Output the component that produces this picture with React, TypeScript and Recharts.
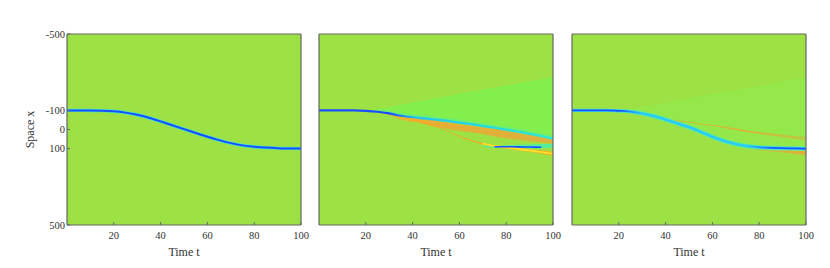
import React from 'react';
import { ComposedChart, Area, Line, XAxis, YAxis, Label } from 'recharts';

// ---------- data ----------
const T = [0, 5, 10, 15, 20, 25, 30, 35, 40, 45, 50, 55, 60, 65, 70, 75, 80, 85, 90, 95, 100];
const X_TICKS = [20, 40, 60, 80, 100];
const Y_TICKS = [-500, -100, 0, 100, 500];
const X_LABEL = 'Time t';
const Y_LABEL = 'Space x';

type V = number | null;
const _ = null;

// Panel 1: true trajectory
const P1_PATH: V[] = [-100, -100, -100, -99, -96, -89, -78, -62, -43, -22, -2, 18, 38, 56, 72, 84, 91, 95, 98, 99, 100];

// Panel 2
const P2_PATH: V[] = [-100, -100, -100, -100, -98, -93, -84, -72, -64, -58, -52, -45, -36, -28, -18, -9, 1, 11, 23, 35, 48];
const P2_WEDGE_TOP: V[] = [_, _, _, _, -100, -108, -118, -130, -142, -152, -163, -174, -186, -197, -208, -219, -230, -241, -252, -262, -273];
const P2_HALO_TOP: V[] = [_, _, _, _, _, -104, -97, -86, -79, -73, -67, -60, -51, -43, -33, -24, -14, -4, 8, 20, 33];
const P2_BAND_LO: V[] = [_, _, _, _, _, -95, -84, -70, -63, -55, -46, -36, -28, -19, -10, -2, 8, 18, 28, 38, 48];
const P2_BAND_HI: V[] = [_, _, _, _, _, -90, -76, -52, -40, -28, -14, -2, 6, 14, 24, 36, 46, 54, 62, 68, 74];
const P2_LOWER_LO: V[] = [_, _, _, _, _, -96, -88, -76, -58, -36, -16, 6, 34, 54, 70, 81, 89, 95, 102, 109, 117];
const P2_LOWER_HI: V[] = [_, _, _, _, _, -94, -84, -72, -54, -32, -12, 10, 39, 60, 78, 91, 101, 109, 118, 127, 137];
const P2_LOWER_CORE: V[] = [_, _, _, _, _, _, _, _, _, _, _, _, _, _, 74, 86, 95, 102, 110, 118, 127];
const P2_SPLIT_LO: V[] = [_, _, _, _, _, _, _, _, _, _, _, _, _, _, 86, 84, 82, 80, 78, 76, 74];
const P2_SPLIT_HI: V[] = [_, _, _, _, _, _, _, _, _, _, _, _, _, _, 90, 96, 98, 99, 99, 98, 96];
const P2_SPLIT_CORE: V[] = [_, _, _, _, _, _, _, _, _, _, _, _, _, _, _, 90, 90, 91, 92, 93, _];

// Panel 3
const P3_PATH: V[] = [-100, -100, -100, -100, -98, -94, -84, -70, -52, -32, -12, 12, 38, 60, 76, 87, 93, 96, 98, 99, 100];
const P3_HALO_LO: V[] = [-104, -104, -104, -104, -104, -104, -97, -83, -65, -45, -25, -1, 25, 47, 63, 75, 81, 84, 86, 87, 88];
const P3_HALO_HI: V[] = [-96, -96, -96, -96, -93, -85, -72, -57, -39, -19, 1, 25, 51, 73, 89, 99, 105, 108, 110, 111, 112];
const P3_WEDGE_TOP: V[] = [_, _, _, _, -100, -108, -118, -128, -140, -151, -162, -173, -184, -195, -206, -217, -228, -240, -252, -263, -275];
const P3_STREAK_LO: V[] = [_, _, _, _, _, _, -84, -67, -58, -49, -41, -32, -23, -14, -5, 5, 13, 20, 27, 34, 40];
const P3_STREAK_HI: V[] = [_, _, _, _, _, _, -82, -63, -54, -45, -37, -28, -19, -8, 2, 14, 24, 32, 40, 48, 56];
const P3_TAIL_LO: V[] = [_, _, _, _, _, _, _, _, _, _, _, _, _, _, _, 98, 100, 103, 106, 110, 114];
const P3_TAIL_HI: V[] = [_, _, _, _, _, _, _, _, _, _, _, _, _, _, _, 101, 108, 115, 121, 127, 134];

// ---------- helpers ----------
const rng = (lo: V[], hi: V[]) => T.map((_t, i) => (lo[i] == null || hi[i] == null ? null : [lo[i], hi[i]]));

const data1 = T.map((t, i) => ({ t, path: P1_PATH[i] }));

const p2Wedge = rng(P2_WEDGE_TOP, P2_PATH);
const p2Halo = rng(P2_HALO_TOP, P2_PATH);
const p2Band = rng(P2_BAND_LO, P2_BAND_HI);
const p2Lower = rng(P2_LOWER_LO, P2_LOWER_HI);
const p2Split = rng(P2_SPLIT_LO, P2_SPLIT_HI);
const data2 = T.map((t, i) => ({
  t,
  path: P2_PATH[i],
  wedge: p2Wedge[i],
  halo: p2Halo[i],
  band: p2Band[i],
  lower: p2Lower[i],
  lowerCore: P2_LOWER_CORE[i],
  split: p2Split[i],
  splitCore: P2_SPLIT_CORE[i],
}));

const p3Wedge = rng(P3_WEDGE_TOP, P3_PATH);
const p3Halo = rng(P3_HALO_LO, P3_HALO_HI);
const p3Streak = rng(P3_STREAK_LO, P3_STREAK_HI);
const p3Tail = rng(P3_TAIL_LO, P3_TAIL_HI);
const data3 = T.map((t, i) => ({
  t,
  path: P3_PATH[i],
  wedge: p3Wedge[i],
  halo: p3Halo[i],
  streak: p3Streak[i],
  tail: p3Tail[i],
}));

// ---------- style ----------
const FONT = '"Liberation Serif", "Times New Roman", serif';
const BG = '#9de144';
const AXIS = '#666666';
const TXT = '#333333';
const tickStyle = { fontFamily: FONT, fontSize: 10.5, fill: TXT };

const PANEL_W = 234;
const PLOT_TOP = 34;
const PLOT_H = 191;
const LEFT_W = 60;
const RIGHT_PAD = 16;
const CH_W = LEFT_W + PANEL_W + RIGHT_PAD;
const CH_H = 268;

function axes(showY: boolean) {
  return [
    <XAxis
      key="xb"
      dataKey="t"
      type="number"
      domain={[0, 100]}
      ticks={X_TICKS}
      interval={0}
      allowDataOverflow
      height={CH_H - PLOT_TOP - PLOT_H}
      tickSize={-3}
      tickMargin={10}
      tick={tickStyle}
      axisLine={{ stroke: AXIS, strokeWidth: 1.2 }}
      tickLine={{ stroke: AXIS }}
    >
      <Label
        value={X_LABEL}
        content={(p: any) => {
          const vb = p.viewBox || {};
          return (
            <text
              x={vb.x + vb.width / 2}
              y={vb.y + 30.5}
              textAnchor="middle"
              style={{ fontFamily: FONT, fontSize: 12, fill: TXT }}
            >
              {X_LABEL}
            </text>
          );
        }}
      />
    </XAxis>,
    <XAxis
      key="xt"
      xAxisId="top"
      orientation="top"
      dataKey="t"
      type="number"
      domain={[0, 100]}
      ticks={X_TICKS}
      interval={0}
      allowDataOverflow
      height={1}
      tickSize={-3}
      tick={false}
      axisLine={{ stroke: AXIS, strokeWidth: 1.2 }}
      tickLine={{ stroke: AXIS }}
    />,
    <YAxis
      key="yl"
      type="number"
      domain={[-500, 500]}
      reversed
      ticks={Y_TICKS}
      interval={0}
      allowDataOverflow
      width={LEFT_W}
      tickSize={-3}
      tickMargin={5}
      tick={showY ? tickStyle : false}
      axisLine={{ stroke: AXIS, strokeWidth: 1.2 }}
      tickLine={{ stroke: AXIS }}
    >
      {showY ? (
        <Label
          value={Y_LABEL}
          content={() => (
            <text
              x={26.5}
              y={129.5}
              transform="rotate(-90, 26.5, 129.5)"
              textAnchor="middle"
              style={{ fontFamily: FONT, fontSize: 12, fill: TXT }}
            >
              {Y_LABEL}
            </text>
          )}
        />
      ) : null}
    </YAxis>,
    <YAxis
      key="yr"
      yAxisId="right"
      orientation="right"
      type="number"
      domain={[-500, 500]}
      reversed
      ticks={Y_TICKS}
      interval={0}
      allowDataOverflow
      width={1}
      tickSize={-3}
      tick={false}
      axisLine={{ stroke: AXIS, strokeWidth: 1.2 }}
      tickLine={{ stroke: AXIS }}
    />,
  ];
}

const chartProps = {
  width: CH_W,
  height: CH_H,
  margin: { top: PLOT_TOP - 1, right: RIGHT_PAD - 1, bottom: 0, left: 0 },
};

function Panel1() {
  return (
    <ComposedChart data={data1} {...chartProps}>
      <Line dataKey="path" type="basis" stroke="#3be3d0" strokeWidth={3.4} dot={false} activeDot={false} isAnimationActive={false} />
      <Line dataKey="path" type="basis" stroke="#1a4dff" strokeWidth={2} dot={false} activeDot={false} isAnimationActive={false} />
      {axes(true)}
    </ComposedChart>
  );
}

function Panel2() {
  return (
    <ComposedChart data={data2} {...chartProps}>
      <defs>
        <linearGradient id="p2path" x1="0" y1="0" x2="1" y2="0">
          <stop offset="0" stopColor="#1a4dff" />
          <stop offset="0.3" stopColor="#1a4dff" />
          <stop offset="0.42" stopColor="#22c4f2" />
          <stop offset="1" stopColor="#2ee8d2" />
        </linearGradient>
        <linearGradient id="p2band" x1="0" y1="0" x2="1" y2="0">
          <stop offset="0" stopColor="#fbb21c" stopOpacity={0.95} />
          <stop offset="0.35" stopColor="#f0a832" stopOpacity={0.9} />
          <stop offset="1" stopColor="#e6aa3c" stopOpacity={0.85} />
        </linearGradient>
      </defs>
      <Area dataKey="wedge" type="monotone" stroke="none" fill="#82ef4e" fillOpacity={0.95} dot={false} activeDot={false} isAnimationActive={false} />
      <Area dataKey="halo" type="monotone" stroke="none" fill="#4ef0a4" fillOpacity={0.5} dot={false} activeDot={false} isAnimationActive={false} />
      <Area dataKey="split" type="monotone" stroke="none" fill="#3ef0b8" fillOpacity={0.75} dot={false} activeDot={false} isAnimationActive={false} />
      <Area dataKey="band" type="monotone" stroke="none" fill="url(#p2band)" fillOpacity={1} dot={false} activeDot={false} isAnimationActive={false} />
      <Area dataKey="lower" type="monotone" stroke="none" fill="#f6a623" fillOpacity={0.9} dot={false} activeDot={false} isAnimationActive={false} />
      <Line dataKey="path" type="monotone" stroke="url(#p2path)" strokeWidth={2.2} dot={false} activeDot={false} isAnimationActive={false} />
      <Line dataKey="lowerCore" type="monotone" stroke="#ffe02a" strokeWidth={1.8} dot={false} activeDot={false} isAnimationActive={false} />
      <Line dataKey="splitCore" type="monotone" stroke="#1a4dff" strokeWidth={1.6} dot={false} activeDot={false} isAnimationActive={false} />
      {axes(false)}
    </ComposedChart>
  );
}

function Panel3() {
  return (
    <ComposedChart data={data3} {...chartProps}>
      <defs>
        <linearGradient id="p3path" x1="0" y1="0" x2="1" y2="0">
          <stop offset="0" stopColor="#1a4dff" />
          <stop offset="0.2" stopColor="#1a4dff" />
          <stop offset="0.3" stopColor="#2cc8f4" />
          <stop offset="0.75" stopColor="#2cc8f4" />
          <stop offset="0.86" stopColor="#1a5aff" />
          <stop offset="1" stopColor="#1a4dff" />
        </linearGradient>
        <linearGradient id="p3streak" x1="0" y1="0" x2="1" y2="0">
          <stop offset="0" stopColor="#f7a21b" stopOpacity={1} />
          <stop offset="0.5" stopColor="#eea52e" stopOpacity={0.85} />
          <stop offset="1" stopColor="#d8b23c" stopOpacity={0.6} />
        </linearGradient>
        <linearGradient id="p3tail" x1="0" y1="0" x2="1" y2="0">
          <stop offset="0" stopColor="#eaa838" stopOpacity={0.3} />
          <stop offset="1" stopColor="#eaa838" stopOpacity={0.95} />
        </linearGradient>
      </defs>
      <Area dataKey="wedge" type="monotone" stroke="none" fill="#8ded4c" fillOpacity={0.6} dot={false} activeDot={false} isAnimationActive={false} />
      <Area dataKey="streak" type="monotone" stroke="none" fill="url(#p3streak)" fillOpacity={1} dot={false} activeDot={false} isAnimationActive={false} />
      <Area dataKey="tail" type="monotone" stroke="none" fill="url(#p3tail)" fillOpacity={1} dot={false} activeDot={false} isAnimationActive={false} />
      <Area dataKey="halo" type="monotone" stroke="none" fill="#5cf08c" fillOpacity={0.8} dot={false} activeDot={false} isAnimationActive={false} />
      <Line dataKey="path" type="monotone" stroke="#36dcec" strokeWidth={3.2} dot={false} activeDot={false} isAnimationActive={false} />
      <Line dataKey="path" type="monotone" stroke="url(#p3path)" strokeWidth={1.8} dot={false} activeDot={false} isAnimationActive={false} />
      {axes(false)}
    </ComposedChart>
  );
}

const PANEL_LEFTS = [67, 319, 572];
const PANELS = [Panel1, Panel2, Panel3];

export default function App() {
  return (
    <div style={{ position: 'absolute', left: 0, top: 0, width: 830, height: 268, background: '#ffffff', overflow: 'hidden' }}>
      {PANELS.map((P, i) => (
        <React.Fragment key={i}>
          <div
            style={{
              position: 'absolute',
              left: PANEL_LEFTS[i],
              top: PLOT_TOP,
              width: PANEL_W,
              height: PLOT_H,
              background: BG,
            }}
          />
          <div style={{ position: 'absolute', left: PANEL_LEFTS[i] - LEFT_W, top: 0 }}>
            <P />
          </div>
        </React.Fragment>
      ))}
    </div>
  );
}
